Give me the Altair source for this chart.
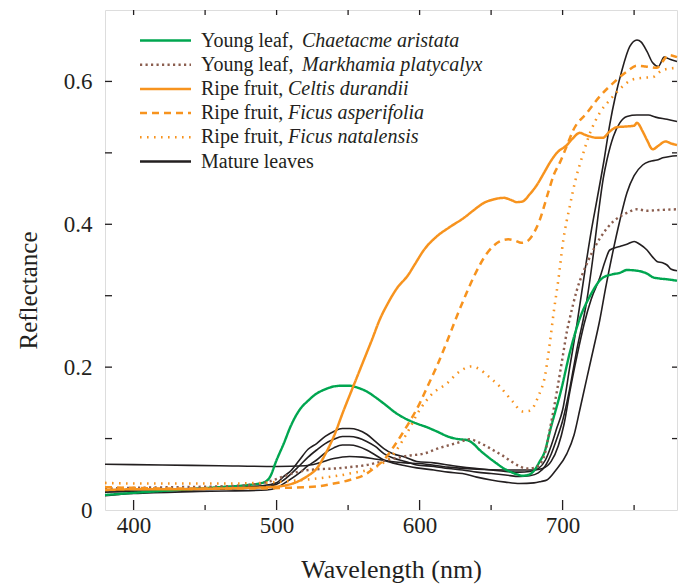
import altair as alt
import pandas as pd

# ---------------- data ----------------
series_names = [
    "Young leaf, Chaetacme aristata",
    "Young leaf, Markhamia platycalyx",
    "Ripe fruit, Celtis durandii",
    "Ripe fruit, Ficus asperifolia",
    "Ripe fruit, Ficus natalensis",
    "Mature leaves",
]
legend_prefix = ["Young leaf,", "Young leaf,", "Ripe fruit,", "Ripe fruit,", "Ripe fruit,", "Mature leaves"]
legend_species = ["Chaetacme aristata", "Markhamia platycalyx", "Celtis durandii",
                  "Ficus asperifolia", "Ficus natalensis", ""]

chaetacme_wl = [380, 400, 430, 460, 480, 490, 495, 500, 505, 510, 516, 522, 528, 534, 540, 546, 551, 557,
                563, 569, 575, 584, 590, 598, 605, 612, 621, 628, 633, 638, 642, 648, 654, 659, 663, 668,
                672, 676, 680, 684, 687, 692, 699, 705, 712, 719, 728, 735, 740, 745, 752, 759, 763, 768,
                773, 780]
chaetacme_r = [0.021, 0.024, 0.028, 0.032, 0.035, 0.038, 0.045, 0.070, 0.093, 0.118, 0.140, 0.153, 0.163,
               0.169, 0.173, 0.174, 0.174, 0.171, 0.166, 0.158, 0.149, 0.135, 0.128, 0.121, 0.116, 0.110,
               0.102, 0.099, 0.098, 0.092, 0.084, 0.074, 0.065, 0.058, 0.054, 0.050, 0.048, 0.049, 0.055,
               0.068, 0.079, 0.117, 0.168, 0.220, 0.268, 0.299, 0.325, 0.330, 0.332, 0.336, 0.335, 0.331,
               0.326, 0.324, 0.323, 0.321]

markhamia_wl = [380, 400, 430, 460, 481, 495, 505, 516, 528, 540, 551, 563, 572, 582, 592, 603, 614, 621,
                628, 635, 641, 647, 653, 659, 664, 670, 675, 680, 684, 687, 691, 696, 700.5, 703, 705, 710,
                717, 726, 735.5, 745, 752, 759, 768, 780]
markhamia_r = [0.030, 0.031, 0.032, 0.033, 0.035, 0.040, 0.047, 0.054, 0.057, 0.058, 0.060, 0.063, 0.067,
               0.072, 0.076, 0.079, 0.087, 0.091, 0.095, 0.099, 0.095, 0.089, 0.082, 0.075, 0.068, 0.061,
               0.058, 0.059, 0.064, 0.075, 0.112, 0.166, 0.220, 0.250, 0.268, 0.308, 0.345, 0.380, 0.404,
               0.416, 0.421, 0.419, 0.420, 0.421]

celtis_wl = [380, 400, 430, 460, 480, 495, 505, 515, 522, 528, 534, 540, 547, 554, 561, 567, 572, 578, 584,
             592, 597, 603, 612, 621, 631, 638, 645, 652, 659, 664, 668, 672, 677, 682, 687, 691, 696, 703,
             707, 712, 716, 719, 724, 728, 733, 738, 745, 750, 752, 756, 759, 763, 767, 772, 776, 780]
celtis_r = [0.028, 0.029, 0.029, 0.030, 0.031, 0.032, 0.034, 0.040, 0.048, 0.058, 0.078, 0.103, 0.140, 0.175,
            0.210, 0.240, 0.266, 0.290, 0.310, 0.329, 0.345, 0.364, 0.383, 0.396, 0.409, 0.420, 0.430, 0.435,
            0.437, 0.434, 0.431, 0.432, 0.442, 0.455, 0.472, 0.486, 0.500, 0.511, 0.520, 0.528, 0.525,
            0.523, 0.521, 0.521, 0.530, 0.536, 0.537, 0.538, 0.542, 0.530, 0.518, 0.505, 0.510, 0.516,
            0.513, 0.511]

asperifolia_wl = [380, 400, 430, 460, 480, 505, 528, 540, 551, 563, 569, 575, 582, 591, 600, 606, 612, 619,
                  626, 632, 638, 647, 656, 662, 667, 671, 675, 678, 684, 690, 694, 698, 703, 707.5, 717, 726,
                  735.5, 745, 752, 758, 766, 770, 774, 780]
asperifolia_r = [0.032, 0.031, 0.030, 0.030, 0.030, 0.031, 0.033, 0.037, 0.042, 0.051, 0.060, 0.070, 0.089,
                 0.117, 0.149, 0.175, 0.201, 0.235, 0.271, 0.300, 0.327, 0.359, 0.376, 0.379, 0.377, 0.374,
                 0.376, 0.382, 0.406, 0.445, 0.470, 0.486, 0.510, 0.532, 0.556, 0.579, 0.598, 0.614, 0.622,
                 0.621, 0.619, 0.628, 0.637, 0.634]

natalensis_wl = [380, 400, 430, 460, 490, 505, 528, 551, 570, 582, 591, 600, 609, 619, 628, 636, 642, 647,
                 656, 665, 672, 677, 683, 688, 691, 694, 697, 700.5, 705, 709, 713, 720, 726, 733, 742, 748,
                 756, 763, 770, 780]
natalensis_r = [0.038, 0.037, 0.037, 0.037, 0.038, 0.040, 0.044, 0.051, 0.061, 0.079, 0.107, 0.140, 0.163,
                0.177, 0.194, 0.201, 0.197, 0.189, 0.173, 0.152, 0.138, 0.139, 0.159, 0.191, 0.233, 0.280,
                0.322, 0.378, 0.425, 0.462, 0.490, 0.532, 0.556, 0.574, 0.593, 0.602, 0.605, 0.606, 0.616,
                0.619]

mature1_wl = [380, 420, 460, 490, 500, 505, 510, 516, 522, 528, 534, 540, 546, 551, 557, 563, 569, 575, 581,
              590, 598, 610, 620, 630, 640, 650, 660, 670, 677, 683, 688, 692, 696, 700, 705, 710, 716, 720,
              724, 729, 733, 737, 741, 747, 752, 755, 759, 763, 767, 771, 775, 780]
mature1_r = [0.027, 0.029, 0.031, 0.034, 0.038, 0.047, 0.055, 0.070, 0.085, 0.093, 0.103, 0.110, 0.114, 0.114,
             0.112, 0.106, 0.096, 0.086, 0.079, 0.074, 0.068, 0.066, 0.063, 0.060, 0.058, 0.056, 0.054, 0.053,
             0.054, 0.058, 0.070, 0.090, 0.115, 0.140, 0.200, 0.260, 0.340, 0.390, 0.434, 0.490, 0.540, 0.580,
             0.612, 0.649, 0.658, 0.655, 0.642, 0.626, 0.621, 0.634, 0.631, 0.628]

mature2_wl = [380, 420, 460, 490, 500, 505, 516, 522, 528, 534, 540, 546, 551, 557, 563, 569, 575, 581, 590,
              598, 610, 620, 630, 640, 650, 660, 670, 677, 683, 688, 692, 696, 700, 705, 710, 717, 721, 725,
              728.5, 731, 735.5, 740, 745, 752, 760, 765, 773, 780]
mature2_r = [0.025, 0.027, 0.029, 0.032, 0.036, 0.042, 0.062, 0.074, 0.084, 0.093, 0.099, 0.103, 0.103, 0.101,
             0.096, 0.089, 0.079, 0.073, 0.068, 0.063, 0.061, 0.058, 0.056, 0.053, 0.051, 0.049, 0.047, 0.048,
             0.052, 0.062, 0.078, 0.100, 0.125, 0.170, 0.225, 0.294, 0.350, 0.415, 0.465, 0.490, 0.523, 0.542,
             0.551, 0.553, 0.553, 0.550, 0.547, 0.544]

mature3_wl = [380, 400, 446, 493, 500, 505, 516, 522, 528, 534, 540, 546, 551, 557, 563, 569, 575, 581, 590,
              598, 610, 620, 630, 640, 650, 660, 670, 680, 685, 689, 695, 703, 708, 712, 717, 721.5, 726, 730,
              735, 740, 745, 750, 756, 761, 766, 770, 775, 780]
mature3_r = [0.020, 0.023, 0.026, 0.028, 0.031, 0.037, 0.052, 0.062, 0.070, 0.080, 0.087, 0.091, 0.091, 0.089,
             0.084, 0.077, 0.070, 0.066, 0.062, 0.059, 0.056, 0.053, 0.051, 0.046, 0.042, 0.039, 0.037, 0.038,
             0.040, 0.042, 0.055, 0.079, 0.105, 0.140, 0.185, 0.225, 0.266, 0.310, 0.360, 0.405, 0.444, 0.468,
             0.483, 0.488, 0.490, 0.493, 0.495, 0.496]

mature4_wl = [380, 420, 460, 500, 520, 530, 540, 551, 560, 570, 580, 590, 600, 620, 640, 660, 680, 686, 692,
              697, 701, 705, 710, 715, 720, 726, 730, 733, 740, 745, 750, 754, 759, 763, 766, 770, 773, 776, 780]
mature4_r = [0.064, 0.063, 0.062, 0.061, 0.062, 0.066, 0.072, 0.075, 0.074, 0.071, 0.068, 0.066, 0.065, 0.060,
             0.057, 0.056, 0.056, 0.058, 0.068, 0.090, 0.120, 0.165, 0.215, 0.260, 0.295, 0.325, 0.350, 0.364,
             0.369, 0.372, 0.376, 0.372, 0.364, 0.354, 0.348, 0.346, 0.343, 0.337, 0.335]

x_label_values = [400, 500, 600, 700]
y_label_values = [0, 0.2, 0.4, 0.6]
x_minor_ticks = [450, 550, 650, 750]
x_all_ticks = [400, 450, 500, 550, 600, 650, 700, 750]
y_all_ticks = [0.1, 0.2, 0.3, 0.4, 0.5, 0.6]

# ---------------- styles ----------------
colors = ["#00a650", "#8b5e4f", "#f7931e", "#f7931e", "#f7931e", "#231f20"]
dashes = [[1, 0], [2.2, 3.3], [1, 0], [7, 5], [1.6, 5.4], [1, 0]]
widths = [2.4, 2.6, 2.4, 2.4, 1.8, 1.6]
INK = "#231f20"
FONT = "Liberation Serif, Times New Roman, serif"

W, H = 572, 500
X0, X1 = 380, 780
Y0, Y1 = 0.0, 0.7
X_TITLE = "Wavelength (nm)"
Y_TITLE = "Reflectance"

# ---------------- tables ----------------
rows = []
def add(name, curve, wl, r):
    for a, b in zip(wl, r):
        rows.append({"series": name, "curve": curve, "wl": a, "r": b})

add(series_names[0], "c", chaetacme_wl, chaetacme_r)
add(series_names[1], "m", markhamia_wl, markhamia_r)
add(series_names[2], "cd", celtis_wl, celtis_r)
add(series_names[3], "fa", asperifolia_wl, asperifolia_r)
add(series_names[4], "fn", natalensis_wl, natalensis_r)
add(series_names[5], "m1", mature1_wl, mature1_r)
add(series_names[5], "m2", mature2_wl, mature2_r)
add(series_names[5], "m3", mature3_wl, mature3_r)
add(series_names[5], "m4", mature4_wl, mature4_r)
df = pd.DataFrame(rows)

# legend rows, positioned in data space from their row index
def px_to_r(py):
    return Y1 - (py - 10) / H * (Y1 - Y0)

leg = pd.DataFrame({
    "series": series_names,
    "prefix": legend_prefix,
    "species": legend_species,
    "ly": [px_to_r(40.5 + 24.2 * i) for i in range(len(series_names))],
})

xs = alt.Scale(domain=[X0, X1], nice=False, zero=False)
ys = alt.Scale(domain=[Y0, Y1], nice=False, zero=False)
cs = alt.Scale(domain=series_names, range=colors)
ds = alt.Scale(domain=series_names, range=dashes)
ws = alt.Scale(domain=series_names, range=widths)

x_axis = alt.Axis(values=x_label_values, ticks=False, domain=False, grid=False, labelFont=FONT,
                  labelFontSize=23, labelColor=INK, labelPadding=4, titleFont=FONT, titleFontSize=26,
                  titleFontWeight="normal", titleColor=INK, titleY=67, titleBaseline="alphabetic")
y_axis = alt.Axis(values=y_label_values, ticks=False, domain=False, grid=False, labelFont=FONT,
                  labelFontSize=23, labelColor=INK, labelPadding=13,
                  labelExpr="datum.value == 0 ? '0' : format(datum.value, '.1f')",
                  titleFont=FONT, titleFontSize=25, titleFontWeight="normal", titleColor=INK,
                  titleAngle=-90, titleX=-77, titleY=280, titleAlign="center", titleBaseline="middle")


def X(field):
    return alt.X(field, scale=xs, axis=x_axis, title=X_TITLE)


def Y(field):
    return alt.Y(field, scale=ys, axis=y_axis, title=Y_TITLE)


black = alt.Chart(df).transform_filter(alt.datum.series == "Mature leaves").mark_line(
    color=INK, strokeWidth=1.6, interpolate="monotone"
).encode(
    x=X("wl:Q"), y=Y("r:Q"), detail="curve:N", order="wl:Q",
)

colored = alt.Chart(df).transform_filter(alt.datum.series != "Mature leaves").mark_line(
    interpolate="monotone", strokeCap="butt"
).encode(
    x=X("wl:Q"), y=Y("r:Q"),
    color=alt.Color("series:N", scale=cs, legend=None),
    strokeDash=alt.StrokeDash("series:N", scale=ds, legend=None),
    strokeWidth=alt.StrokeWidth("series:N", scale=ws, legend=None),
    detail="curve:N",
    order="wl:Q",
)

tick_style = dict(color=INK, strokeWidth=1.3)
xmaj = pd.DataFrame({"v": x_label_values})
xmin = pd.DataFrame({"v": x_minor_ticks})
xall = pd.DataFrame({"v": x_all_ticks})
yall = pd.DataFrame({"v": y_all_ticks})

bottom_major = alt.Chart(xmaj).mark_rule(**tick_style).encode(
    x=X("v:Q"), y=alt.value(H), y2=alt.value(H - 10))
bottom_minor = alt.Chart(xmin).mark_rule(**tick_style).encode(
    x=X("v:Q"), y=alt.value(H), y2=alt.value(H - 5))
top_ticks = alt.Chart(xall).mark_rule(**tick_style).encode(
    x=X("v:Q"), y=alt.value(0), y2=alt.value(5))
left_ticks = alt.Chart(yall).mark_rule(**tick_style).encode(
    y=Y("v:Q"), x=alt.value(0), x2=alt.value(7))
right_ticks = alt.Chart(yall).mark_rule(**tick_style).encode(
    y=Y("v:Q"), x=alt.value(W), x2=alt.value(W - 5))

leg_lines = alt.Chart(leg).mark_rule(strokeCap="butt").encode(
    x=alt.value(35), x2=alt.value(86),
    y=Y("ly:Q"),
    color=alt.Color("series:N", scale=cs, legend=None),
    strokeDash=alt.StrokeDash("series:N", scale=ds, legend=None),
    strokeWidth=alt.StrokeWidth("series:N", scale=ws, legend=None),
)
text_style = dict(font=FONT, fontSize=20, color=INK, align="left", baseline="middle")
leg_prefix = alt.Chart(leg).mark_text(**text_style).encode(
    x=alt.value(96), y=Y("ly:Q"), text="prefix:N")
leg_sp_young = alt.Chart(leg).transform_filter(alt.datum.prefix == "Young leaf,").mark_text(
    fontStyle="italic", **text_style).encode(
    x=alt.value(197), y=Y("ly:Q"), text="species:N")
leg_sp_ripe = alt.Chart(leg).transform_filter(alt.datum.prefix == "Ripe fruit,").mark_text(
    fontStyle="italic", **text_style).encode(
    x=alt.value(183), y=Y("ly:Q"), text="species:N")

chart = alt.layer(
    black, colored, bottom_major, bottom_minor, top_ticks, left_ticks, right_ticks,
    leg_lines, leg_prefix, leg_sp_young, leg_sp_ripe,
).properties(
    width=W, height=H,
    autosize=alt.AutoSizeParams(type="none"),
    padding={"left": 105, "top": 10, "right": 6, "bottom": 76},
).configure_view(
    stroke=INK, strokeWidth=1.5
).configure(background="white")

chart.save("out.html", embed_options={"renderer": "svg", "actions": False})
